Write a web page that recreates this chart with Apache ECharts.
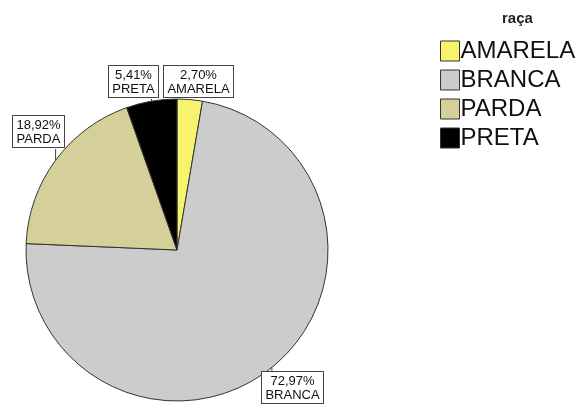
<!DOCTYPE html>
<html>
<head>
<meta charset="utf-8">
<script src="https://cdn.jsdelivr.net/npm/echarts@6/dist/echarts.min.js"></script>
<style>
html,body{margin:0;padding:0;background:#fff;}
#chart{width:581px;height:410px;}
</style>
</head>
<body>
<div id="chart"></div>
<script>
// Race distribution (counts) and share labels
const categories = ['AMARELA', 'BRANCA', 'PARDA', 'PRETA'];
const counts = [1, 27, 7, 2];
const colors = ['#f7f36c', '#cccccc', '#d5cf9a', '#000000'];
const legendTitle = 'raça';

const total = counts.reduce((a, b) => a + b, 0);
const fmtPct = v => (v / total * 100).toFixed(2).replace('.', ',') + '%';

const FONT = 'Liberation Sans, Arial, sans-serif';
const LABEL_SIZE = 13;

// top-left corner of each callout box and which side its leader attaches to
const callouts = {
  AMARELA: { x: 163, y: 66, side: 'bottom' },
  PRETA:   { x: 108, y: 66, side: 'bottom' },
  PARDA:   { x: 12,  y: 116, side: 'bottom' },
  BRANCA:  { x: 261, y: 372, side: 'top' }
};

// measure the widest line of a callout so the pie layout never truncates it
const measureCtx = document.createElement('canvas').getContext('2d');
measureCtx.font = LABEL_SIZE + 'px ' + FONT;
const textWidth = lines => Math.ceil(Math.max(...lines.map(s => measureCtx.measureText(s).width)));

const chart = echarts.init(document.getElementById('chart'));
chart.setOption({
  animation: false,
  textStyle: { fontFamily: FONT },
  title: {
    text: legendTitle,
    left: 497, top: 6,
    textStyle: { fontSize: 15, fontWeight: 'bold', color: '#222' }
  },
  legend: {
    orient: 'vertical',
    left: 440, top: 39,
    padding: 0,
    itemWidth: 19, itemHeight: 20,
    itemGap: 5,
    icon: 'rect',
    itemStyle: { borderColor: '#333', borderWidth: 1 },
    textStyle: { fontSize: 24, lineHeight: 20, color: '#111', padding: [2, 0, 0, -4] },
    data: categories
  },
  series: [{
    type: 'pie',
    center: [177, 250],
    radius: 151,
    startAngle: 90,
    clockwise: true,
    data: categories.map((c, i) => ({
      name: c,
      value: counts[i],
      itemStyle: { color: colors[i] },
      label: { width: textWidth([fmtPct(counts[i]), c]) }
    })),
    itemStyle: { borderColor: '#333', borderWidth: 1 },
    label: {
      show: true,
      position: 'outside',
      overflow: 'none',
      formatter: p => fmtPct(p.value) + '\n' + p.name,
      backgroundColor: '#fff',
      borderColor: '#444',
      borderWidth: 1,
      padding: [2, 3, 1, 3],
      fontSize: LABEL_SIZE,
      lineHeight: 14,
      color: '#111'
    },
    labelLine: { show: true, length: 4, length2: 2, lineStyle: { color: '#444', width: 1 } },
    labelLayout: function (params) {
      const name = categories[params.dataIndex];
      const c = callouts[name];
      const w = params.labelRect.width, h = params.labelRect.height;
      const edge = params.labelLinePoints[0];
      const endY = c.side === 'bottom' ? c.y + h : c.y;
      const endX = Math.min(Math.max(edge[0], c.x + 4), c.x + w - 4);
      return {
        x: c.x + w / 2, y: c.y,
        align: 'center', verticalAlign: 'top',
        labelLinePoints: [edge, [endX, endY], [endX, endY]]
      };
    },
    emphasis: { disabled: true }
  }]
});
</script>
</body>
</html>
